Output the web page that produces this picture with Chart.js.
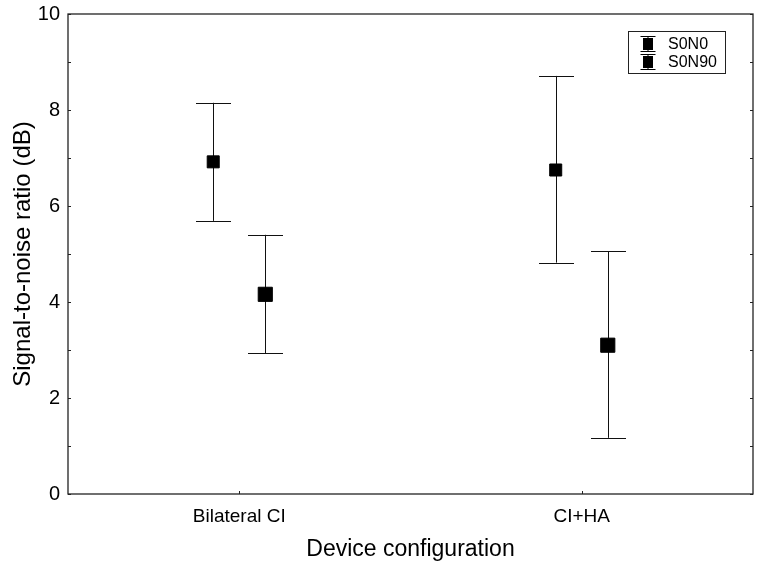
<!DOCTYPE html>
<html>
<head>
<meta charset="utf-8">
<script src="https://cdn.jsdelivr.net/npm/chart.js@4.4.0/dist/chart.umd.min.js"></script>
<style>
  html, body { margin: 0; padding: 0; background: #fff; }
  #wrap { width: 764px; height: 567px; }
</style>
</head>
<body>
<div id="wrap"><canvas id="myChart"></canvas></div>
<script>
// ===========================
// DATA
// ===========================
const categories = ['Bilateral CI', 'CI+HA'];
const seriesNames = ['S0N0', 'S0N90'];

// S0N0 means and error bar ends
const s0n0Mean  = [6.92, 6.75];
const s0n0Upper = [8.15, 8.71];
const s0n0Lower = [5.69, 4.82];

// S0N90 means and error bar ends
const s0n90Mean  = [4.16, 3.10];
const s0n90Upper = [5.40, 5.06];
const s0n90Lower = [2.93, 1.17];

const yTicks = [0, 2, 4, 6, 8, 10];

// horizontal shift of each series from the category centre (category units)
const dodge = 0.076;

function toPoints(mean, upper, lower, shift) {
    return mean.map((m, i) => ({ x: i + 0.5 + shift, y: m, hi: upper[i], lo: lower[i] }));
}

const data = {
    datasets: [
    {
        label: seriesNames[0],
        data: toPoints(s0n0Mean, s0n0Upper, s0n0Lower, -dodge),
        pointStyle: 'rect',
        radius: 8.5,
        backgroundColor: '#000',
        borderColor: '#000',
        borderWidth: 1
    },
    {
        label: seriesNames[1],
        data: toPoints(s0n90Mean, s0n90Upper, s0n90Lower, dodge),
        pointStyle: 'rect',
        radius: 10,
        backgroundColor: '#000',
        borderColor: '#000',
        borderWidth: 1
    }
    ]
};

// ===========================
// PLUGIN: error bars, frame, inner ticks, legend
// ===========================
const errorBars = {
    id: 'errorBars',
    beforeDatasetsDraw(chart) {
        const ctx = chart.ctx;
        const xs = chart.scales.x, ys = chart.scales.y;
        ctx.save();
        ctx.strokeStyle = '#111';
        ctx.lineWidth = 1;
        chart.data.datasets.forEach((ds) => {
            ds.data.forEach((p) => {
                const px = Math.round(xs.getPixelForValue(p.x)) + 0.5;
                const top = ys.getPixelForValue(p.hi);
                const bot = ys.getPixelForValue(p.lo);
                ctx.beginPath();
                ctx.moveTo(px, top);
                ctx.lineTo(px, bot);
                ctx.moveTo(px - 17.5, Math.round(top) + 0.5);
                ctx.lineTo(px + 17.5, Math.round(top) + 0.5);
                ctx.moveTo(px - 17.5, Math.round(bot) + 0.5);
                ctx.lineTo(px + 17.5, Math.round(bot) + 0.5);
                ctx.stroke();
            });
        });
        ctx.restore();
    },
    afterDraw(chart) {
        const ctx = chart.ctx;
        const a = chart.chartArea;
        const xs = chart.scales.x, ys = chart.scales.y;
        ctx.save();

        // frame
        ctx.strokeStyle = '#222';
        ctx.lineWidth = 1.3;
        ctx.strokeRect(a.left, a.top, a.right - a.left, a.bottom - a.top);

        // inner ticks on left and right axes at every integer
        ctx.lineWidth = 1;
        ctx.beginPath();
        for (let v = 0; v <= 10; v++) {
            const py = Math.round(ys.getPixelForValue(v)) + 0.5;
            ctx.moveTo(a.left, py);
            ctx.lineTo(a.left + 3, py);
            ctx.moveTo(a.right, py);
            ctx.lineTo(a.right - 3, py);
        }
        // inner ticks on x axis at categories
        categories.forEach((c, i) => {
            const px = Math.round(xs.getPixelForValue(i + 0.5)) + 0.5;
            ctx.moveTo(px, a.bottom);
            ctx.lineTo(px, a.bottom - 3);
        });
        ctx.stroke();

        // legend box
        const bx = a.right - 125, by = a.top + 17, bw = 97, bh = 42;
        ctx.fillStyle = '#fff';
        ctx.fillRect(bx, by, bw, bh);
        ctx.strokeStyle = '#222';
        ctx.strokeRect(bx + 0.5, by + 0.5, bw, bh);
        ctx.font = '16px "Liberation Sans", Arial, sans-serif';
        ctx.textBaseline = 'middle';
        seriesNames.forEach((name, i) => {
            const cy = by + 13 + i * 18;
            const cx = bx + 20;
            ctx.strokeStyle = '#000';
            ctx.beginPath();
            ctx.moveTo(cx - 7.5, cy - 7.5); ctx.lineTo(cx + 7.5, cy - 7.5);
            ctx.moveTo(cx - 7.5, cy + 7.5); ctx.lineTo(cx + 7.5, cy + 7.5);
            ctx.moveTo(cx, cy - 7.5); ctx.lineTo(cx, cy + 7.5);
            ctx.stroke();
            ctx.fillStyle = '#000';
            ctx.fillRect(cx - 5, cy - 6, 10, 12);
            ctx.fillText(name, bx + 40, cy + 1);
        });
        ctx.restore();
    }
};

// fix axis sizes and drop the label overflow padding chart.js adds
function fixX(s) {
    s.height = 73;
    s.paddingLeft = 0; s.paddingRight = 0;
}
function fixY(s) {
    s.width = 68;
    s.paddingTop = 0; s.paddingBottom = 0;
}

// ===========================
// CHART
// ===========================
const ctx = document.getElementById('myChart');

const myChart = new Chart(ctx, {
    type: 'scatter',
    data: data,
    plugins: [errorBars],
    options: {
        responsive: true,
        maintainAspectRatio: false,
        animation: false,
        layout: { padding: { top: 14, right: 8, left: 0, bottom: 0 } },
        plugins: {
            legend: { display: false },
            tooltip: { enabled: false }
        },
        scales: {
            x: {
                type: 'linear',
                min: 0,
                max: 2,
                afterBuildTicks: (s) => { s.ticks = categories.map((c, i) => ({ value: i + 0.5 })); },
                afterFit: fixX,
                grid: { display: false, drawTicks: false },
                border: { display: false },
                ticks: {
                    color: '#000',
                    padding: 11,
                    maxRotation: 0,
                    font: { family: '"Liberation Sans", Arial, sans-serif', size: 19 },
                    callback: (v) => categories[Math.round(v - 0.5)]
                },
                title: {
                    display: true,
                    text: 'Device configuration',
                    color: '#000',
                    padding: { top: 0, bottom: 4 },
                    font: { family: '"Liberation Sans", Arial, sans-serif', size: 23 }
                }
            },
            y: {
                min: 0,
                max: 10,
                afterBuildTicks: (s) => { s.ticks = yTicks.map((v) => ({ value: v })); },
                afterFit: fixY,
                grid: { display: false, drawTicks: false },
                border: { display: false },
                ticks: {
                    color: '#000',
                    padding: 8,
                    font: { family: '"Liberation Sans", Arial, sans-serif', size: 20 }
                },
                title: {
                    display: true,
                    text: 'Signal-to-noise ratio (dB)',
                    color: '#000',
                    padding: { top: 9, bottom: 0 },
                    font: { family: '"Liberation Sans", Arial, sans-serif', size: 24 }
                }
            }
        }
    }
});
</script>
</body>
</html>
